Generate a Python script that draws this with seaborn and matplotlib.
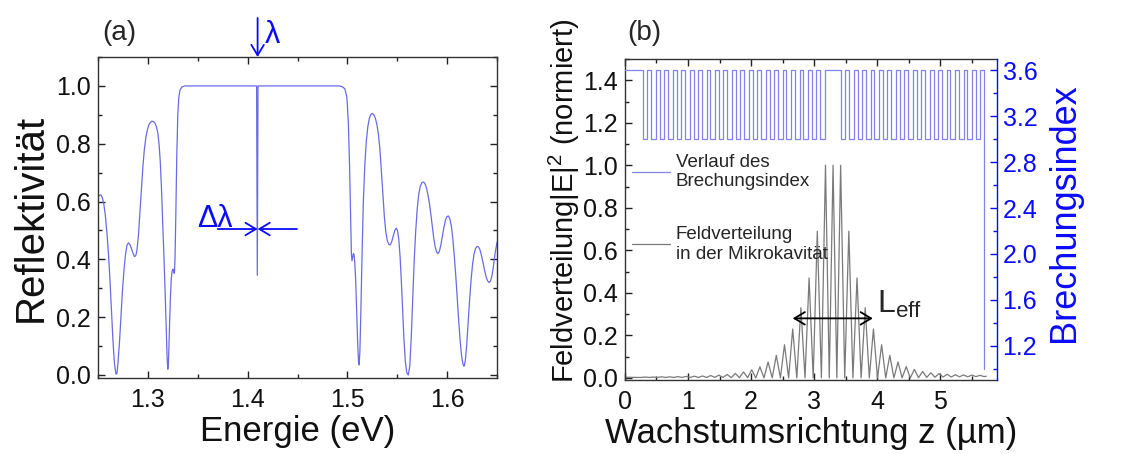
import numpy as np
import pandas as pd
import matplotlib
matplotlib.use("Agg")
import matplotlib.pyplot as plt
import seaborn as sns
from matplotlib.ticker import MultipleLocator, FormatStrFormatter

# (a) Reflektivitaet
energy = [1.2500, 1.2515, 1.2530, 1.2545, 1.2560, 1.2575, 1.2590, 1.2605, 1.2620, 1.2635,
          1.2650, 1.2665, 1.2680, 1.2690, 1.2700, 1.2715, 1.2730, 1.2745, 1.2760, 1.2775,
          1.2790, 1.2805, 1.2820, 1.2835, 1.2850, 1.2865, 1.2878, 1.2890, 1.2905, 1.2920,
          1.2935, 1.2950, 1.2965, 1.2980, 1.2995, 1.3010, 1.3025, 1.3040, 1.3055, 1.3070,
          1.3085, 1.3100, 1.3112, 1.3124, 1.3136, 1.3148, 1.3160, 1.3172, 1.3183, 1.3193,
          1.3200, 1.3207, 1.3215, 1.3225, 1.3235, 1.3245, 1.3253, 1.3260, 1.3266, 1.3272,
          1.3280, 1.3290, 1.3300, 1.3310, 1.3322, 1.3340, 1.3370, 1.4090, 1.4097, 1.4104,
          1.4920, 1.4950, 1.4975, 1.4995, 1.5010, 1.5022, 1.5032, 1.5040, 1.5046, 1.5052,
          1.5060, 1.5066, 1.5074, 1.5084, 1.5094, 1.5104, 1.5112, 1.5118, 1.5125, 1.5135,
          1.5147, 1.5160, 1.5175, 1.5190, 1.5205, 1.5220, 1.5235, 1.5250, 1.5265, 1.5280,
          1.5295, 1.5310, 1.5325, 1.5340, 1.5355, 1.5370, 1.5385, 1.5400, 1.5415, 1.5430,
          1.5445, 1.5460, 1.5475, 1.5490, 1.5502, 1.5515, 1.5528, 1.5540, 1.5553, 1.5566,
          1.5580, 1.5595, 1.5610, 1.5625, 1.5640, 1.5655, 1.5670, 1.5685, 1.5700, 1.5715,
          1.5730, 1.5745, 1.5760, 1.5775, 1.5790, 1.5805, 1.5820, 1.5835, 1.5850, 1.5865,
          1.5880, 1.5895, 1.5908, 1.5922, 1.5937, 1.5952, 1.5967, 1.5982, 1.5997, 1.6012,
          1.6027, 1.6042, 1.6057, 1.6072, 1.6087, 1.6102, 1.6117, 1.6132, 1.6147, 1.6160,
          1.6170, 1.6182, 1.6195, 1.6210, 1.6225, 1.6240, 1.6255, 1.6270, 1.6285, 1.6300,
          1.6315, 1.6330, 1.6345, 1.6360, 1.6375, 1.6390, 1.6405, 1.6420, 1.6435, 1.6450,
          1.6465, 1.6480, 1.6500]
reflect = [0.615, 0.622, 0.623, 0.612, 0.588, 0.548, 0.490, 0.420, 0.330, 0.225,
           0.120, 0.040, 0.003, 0.005, 0.040, 0.110, 0.200, 0.290, 0.360, 0.415,
           0.448, 0.457, 0.452, 0.438, 0.422, 0.410, 0.412, 0.430, 0.480, 0.560,
           0.645, 0.720, 0.780, 0.822, 0.848, 0.865, 0.874, 0.878, 0.877, 0.872,
           0.860, 0.838, 0.800, 0.740, 0.650, 0.540, 0.420, 0.300, 0.170, 0.060,
           0.020, 0.050, 0.140, 0.260, 0.335, 0.362, 0.366, 0.355, 0.352, 0.400,
           0.550, 0.760, 0.900, 0.960, 0.985, 0.996, 1.000, 1.000, 0.345, 1.000,
           1.000, 0.997, 0.990, 0.960, 0.870, 0.720, 0.550, 0.420, 0.395, 0.405,
           0.420, 0.418, 0.390, 0.320, 0.210, 0.100, 0.045, 0.035, 0.080, 0.220,
           0.420, 0.600, 0.730, 0.810, 0.860, 0.888, 0.901, 0.905, 0.900, 0.888,
           0.868, 0.835, 0.785, 0.710, 0.630, 0.550, 0.495, 0.465, 0.452, 0.450,
           0.462, 0.482, 0.500, 0.508, 0.500, 0.470, 0.410, 0.330, 0.230, 0.130,
           0.050, 0.008, 0.000, 0.030, 0.130, 0.270, 0.400, 0.500, 0.575, 0.625,
           0.652, 0.665, 0.668, 0.664, 0.650, 0.628, 0.598, 0.560, 0.518, 0.475,
           0.443, 0.425, 0.420, 0.428, 0.450, 0.480, 0.510, 0.535, 0.548, 0.550,
           0.540, 0.515, 0.470, 0.410, 0.340, 0.260, 0.180, 0.110, 0.060, 0.035,
           0.030, 0.050, 0.100, 0.180, 0.260, 0.330, 0.385, 0.420, 0.438, 0.445,
           0.443, 0.432, 0.412, 0.388, 0.362, 0.340, 0.326, 0.320, 0.325, 0.345,
           0.380, 0.420, 0.460]
mode_energy = 1.41

# (b) Schichtfolge der Mikrokavitaet
substrate_d = 0.283
low_d, high_d = 0.073, 0.061
cavity_d = 0.25
bottom_pairs, top_pairs = 21, 17
n_high, n_low, n_air = 3.6, 3.0, 1.0

# (b) Feldverteilung |E|^2: Maxima und Minima
peak_z = [0.32, 0.45, 0.58, 0.71, 0.84, 0.97, 1.10, 1.23, 1.36, 1.49, 1.62, 1.75, 1.88, 2.01,
          2.14, 2.27, 2.40, 2.53, 2.66, 2.79, 2.92, 3.05, 3.18, 3.30, 3.42, 3.55, 3.68, 3.81,
          3.94, 4.07, 4.20, 4.33, 4.46, 4.59, 4.72, 4.85, 4.98, 5.11, 5.24, 5.37, 5.50, 5.63]
peak_v = [0.004, 0.004, 0.005, 0.005, 0.006, 0.007, 0.008, 0.009, 0.011, 0.013, 0.016, 0.021,
          0.028, 0.038, 0.052, 0.075, 0.106, 0.156, 0.23, 0.33, 0.47, 0.69, 1.0, 1.0, 1.0,
          0.69, 0.47, 0.33, 0.23, 0.156, 0.106, 0.075, 0.053, 0.04, 0.03, 0.024, 0.02, 0.017,
          0.015, 0.014, 0.013, 0.012]
trough_z = [0.255, 0.385, 0.515, 0.645, 0.775, 0.905, 1.035, 1.165, 1.295, 1.425, 1.555,
            1.685, 1.815, 1.945, 2.075, 2.205, 2.335, 2.465, 2.595, 2.725, 2.855, 2.985,
            3.115, 3.24, 3.36, 3.485, 3.615, 3.745, 3.875, 4.005, 4.135, 4.265, 4.395,
            4.525, 4.655, 4.785, 4.915, 5.045, 5.175, 5.305, 5.435, 5.565, 5.695]
trough_v = [0.002] * 11 + [0.001] * 3 + [0.0] * 20 + [0.001, 0.002, 0.003, 0.004, 0.004,
                                                      0.005, 0.005, 0.006, 0.006]
field_start = (0.0, 0.003)
field_end = (5.73, 0.008)

refl_color = "#6a6ae6"
index_color = "#8383ee"
field_color = "#7a7a7a"
blue = "#0a0aff"

sns.set_theme(style="ticks")
plt.rcParams["font.family"] = ["Liberation Sans", "DejaVu Sans"]
plt.rcParams["mathtext.fontset"] = "custom"
plt.rcParams["mathtext.rm"] = "Liberation Sans"
plt.rcParams["mathtext.it"] = "Liberation Sans:italic"
plt.rcParams["mathtext.bf"] = "Liberation Sans:bold"

fig = plt.figure(figsize=(11.21, 4.54), dpi=100)
ax_a = fig.add_axes([0.0874, 0.1674, 0.356, 0.707])
ax_b = fig.add_axes([0.5575, 0.163, 0.3319, 0.707])


def style_ticks(ax, **kw):
    ax.tick_params(which="both", direction="in", width=1.0, color="#222222",
                   labelcolor="#111111", labelsize=18, **kw)
    ax.tick_params(which="major", length=5)
    ax.tick_params(which="minor", length=3)
    for sp in ax.spines.values():
        sp.set_linewidth(1.0)
        sp.set_color("#333333")


# ---- (a) ----
sns.lineplot(x=energy, y=reflect, ax=ax_a, color=refl_color, lw=0.9,
             sort=False, estimator=None)
ax_a.set_xlim(1.25, 1.65)
ax_a.set_ylim(-0.0104, 1.1)
ax_a.xaxis.set_major_locator(MultipleLocator(0.1))
ax_a.xaxis.set_minor_locator(MultipleLocator(0.05))
ax_a.yaxis.set_major_locator(MultipleLocator(0.2))
ax_a.yaxis.set_minor_locator(MultipleLocator(0.1))
ax_a.xaxis.set_major_formatter(FormatStrFormatter("%.1f"))
ax_a.yaxis.set_major_formatter(FormatStrFormatter("%.1f"))
style_ticks(ax_a, top=True, right=True)
ax_a.tick_params(axis="x", pad=7)
ax_a.tick_params(axis="y", pad=5)
ax_a.set_xlabel("Energie (eV)", fontsize=25, color="#111111")
ax_a.set_ylabel("Reflektivität", fontsize=29, color="#111111")
ax_a.xaxis.set_label_coords(0.5, -0.115)
ax_a.yaxis.set_label_coords(-0.122, 0.5)

arrow_kw = dict(arrowstyle="->,head_length=0.5,head_width=0.3", color=blue,
                lw=1.3, mutation_scale=15, shrinkA=0, shrinkB=0)
ax_a.annotate("", xy=(mode_energy, 1.10), xytext=(mode_energy, 1.235),
              arrowprops=arrow_kw, annotation_clip=False)
ax_a.text(1.4174, 1.148, "λ", color=blue, fontsize=22, va="baseline", clip_on=False)
ax_a.annotate("", xy=(mode_energy, 0.505), xytext=(1.370, 0.505), arrowprops=arrow_kw)
ax_a.annotate("", xy=(mode_energy, 0.505), xytext=(1.4495, 0.505), arrowprops=arrow_kw)
ax_a.text(1.3493, 0.512, "Δλ", color=blue, fontsize=22, va="baseline")

# ---- (b) ----
layer_d = [substrate_d] + [low_d, high_d] * bottom_pairs + [low_d] + [cavity_d] \
    + [low_d, high_d] * top_pairs
layer_n = [n_high] + [n_low, n_high] * bottom_pairs + [n_low] + [n_high] \
    + [n_low, n_high] * top_pairs
edges = np.concatenate([[0.0], np.cumsum(layer_d)])
step_z, step_n = [], []
for i, n in enumerate(layer_n):
    step_z += [edges[i], edges[i + 1]]
    step_n += [n, n]
step_z.append(edges[-1])
step_n.append(n_air)
profile = pd.DataFrame({"z": step_z, "n": step_n})

fz, fv = [field_start[0]], [field_start[1]]
for i in range(len(peak_z)):
    fz += [trough_z[i], peak_z[i]]
    fv += [trough_v[i], peak_v[i]]
fz += [trough_z[-1], field_end[0]]
fv += [trough_v[-1], field_end[1]]
field = pd.DataFrame({"z": fz, "E2": fv})

sns.lineplot(data=field, x="z", y="E2", ax=ax_b, color=field_color, lw=0.9,
             sort=False, estimator=None, label="Feldverteilung\nin der Mikrokavität")
ax_b.set_xlim(0, 5.9)
ax_b.set_ylim(-0.01, 1.5)
ax_b.xaxis.set_major_locator(MultipleLocator(1))
ax_b.xaxis.set_minor_locator(MultipleLocator(0.5))
ax_b.yaxis.set_major_locator(MultipleLocator(0.2))
ax_b.yaxis.set_minor_locator(MultipleLocator(0.1))
ax_b.xaxis.set_major_formatter(FormatStrFormatter("%d"))
ax_b.yaxis.set_major_formatter(FormatStrFormatter("%.1f"))
style_ticks(ax_b, top=True, right=False)
ax_b.tick_params(axis="x", pad=7)
ax_b.tick_params(axis="y", pad=5)
ax_b.spines["right"].set_visible(False)
ax_b.set_xlabel("Wachstumsrichtung z (µm)", fontsize=25, color="#111111")
ax_b.set_ylabel("Feldverteilung|E|$^{2}$ (normiert)", fontsize=21, color="#111111")
ax_b.xaxis.set_label_coords(0.5, -0.115)
ax_b.yaxis.set_label_coords(-0.115, 0.56)

ax_r = ax_b.twinx()
sns.lineplot(data=profile, x="z", y="n", ax=ax_r, color=index_color, lw=0.9,
             sort=False, estimator=None, label="Verlauf des\nBrechungsindex")
ax_r.set_ylim(0.9, 3.7)
ax_r.yaxis.set_major_locator(MultipleLocator(0.4))
ax_r.yaxis.set_minor_locator(MultipleLocator(0.2))
ax_r.yaxis.set_major_formatter(FormatStrFormatter("%.1f"))
ax_r.tick_params(which="both", direction="in", width=1.0, colors=blue, labelsize=18, pad=4)
ax_r.tick_params(which="major", length=5)
ax_r.tick_params(which="minor", length=3)
for name, sp in ax_r.spines.items():
    sp.set_visible(name == "right")
ax_r.spines["right"].set_color(blue)
ax_r.spines["right"].set_linewidth(1.0)
ax_r.set_ylabel("Brechungsindex", fontsize=26, color=blue)
ax_r.yaxis.set_label_coords(1.135, 0.52)

ax_b.annotate("", xy=(2.66, 0.28), xytext=(3.93, 0.28),
              arrowprops=dict(arrowstyle="<->,head_length=0.5,head_width=0.3",
                              color="black", lw=1.3, mutation_scale=15,
                              shrinkA=0, shrinkB=0))
ax_b.text(3.99, 0.304, "L$_{\\mathrm{eff}}$", fontsize=23, va="baseline")

h1, l1 = ax_r.get_legend_handles_labels()
h2, l2 = ax_b.get_legend_handles_labels()
if ax_r.get_legend():
    ax_r.get_legend().remove()
if ax_b.get_legend():
    ax_b.get_legend().remove()
ax_r.legend(h1 + h2, l1 + l2, loc="upper left", bbox_to_anchor=(0.02, 0.705),
            frameon=False, fontsize=13.5, handlelength=2.0, handletextpad=0.3,
            labelspacing=1.9, borderpad=0, borderaxespad=0)

fig.text(102 / 1121, 1 - 40 / 454, "(a)", fontsize=20, va="baseline")
fig.text(627 / 1121, 1 - 40 / 454, "(b)", fontsize=20, va="baseline")

fig.savefig("out.png", dpi=100)
